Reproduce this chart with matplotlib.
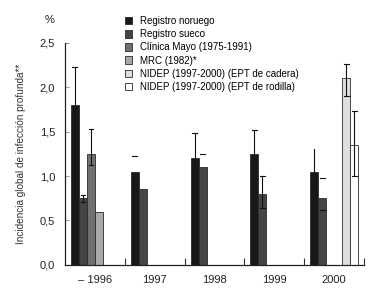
import numpy as np
import matplotlib
matplotlib.use("Agg")
import matplotlib.pyplot as plt
from matplotlib.patches import Patch

plt.rcParams['font.family'] = ['Liberation Sans', 'DejaVu Sans']

nan = np.nan
groups = ['– 1996', '1997', '1998', '1999', '2000']
series_names = ['Registro noruego', 'Registro sueco', 'Clínica Mayo (1975-1991)',
                'MRC (1982)*', 'NIDEP (1997-2000) (EPT de cadera)',
                'NIDEP (1997-2000) (EPT de rodilla)']
noruego = [1.80, 1.05, 1.20, 1.25, 1.05]
sueco = [0.75, 0.85, 1.10, 0.80, 0.75]
mayo = [1.25, nan, nan, nan, nan]
mrc = [0.60, nan, nan, nan, nan]
cadera = [nan, nan, nan, nan, 2.10]
rodilla = [nan, nan, nan, nan, 1.35]

noruego_hi = [2.23, 1.23, 1.49, 1.52, 1.31]
noruego_lo = [nan, nan, nan, nan, nan]
noruego_err = ['lc', 'c', 'lc', 'lc', 'l']
sueco_hi = [0.785, nan, 1.25, 1.00, 0.98]
sueco_lo = [0.71, nan, nan, 0.64, 0.62]
sueco_err = ['lc', '', 'c', 'lc', 'c']
mayo_hi = [1.53, nan, nan, nan, nan]
mayo_lo = [1.12, nan, nan, nan, nan]
mayo_err = ['lc', '', '', '', '']
cadera_hi = [nan, nan, nan, nan, 2.26]
cadera_lo = [nan, nan, nan, nan, 1.90]
cadera_err = ['', '', '', '', 'lc']
rodilla_hi = [nan, nan, nan, nan, 1.73]
rodilla_lo = [nan, nan, nan, nan, 1.00]
rodilla_err = ['', '', '', '', 'lc']

colors = ['#181818', '#454545', '#707070', '#a9a9a9', '#dedede', '#ffffff']

fig = plt.figure(figsize=(3.84, 3.0), dpi=100)
ax = fig.add_axes([0.169, 0.117, 0.779, 0.740])

vals = [noruego, sueco, mayo, mrc, cadera, rodilla]
his = [noruego_hi, sueco_hi, mayo_hi, [nan]*5, cadera_hi, rodilla_hi]
los = [noruego_lo, sueco_lo, mayo_lo, [nan]*5, cadera_lo, rodilla_lo]
errs = [noruego_err, sueco_err, mayo_err, ['']*5, cadera_err, rodilla_err]

w = 0.134
off = 0.1
x0 = np.arange(len(groups))
for k, (v, c) in enumerate(zip(vals, colors)):
    x = x0 + off + k * w
    ax.bar(x, v, width=w, align='edge', color=c, edgecolor='#2a2a2a', linewidth=0.6, zorder=2)
    xc = x + w / 2
    for i in range(len(groups)):
        st = errs[k][i]
        if not st:
            continue
        hi = his[k][i]
        lo = los[k][i]
        base = v[i]
        top = hi if not np.isnan(hi) else base
        bot = lo if not np.isnan(lo) else base
        if 'l' in st:
            ax.plot([xc[i], xc[i]], [bot, top], color='#111111', lw=0.8, zorder=3)
        if 'c' in st:
            for yy in ([hi, lo]):
                if not np.isnan(yy):
                    ax.plot([xc[i] - 0.04, xc[i] + 0.04], [yy, yy], color='#111111', lw=0.8, zorder=3)

ax.set_xlim(0, len(groups))
ax.set_ylim(0, 2.5)
ax.set_yticks([0, 0.5, 1.0, 1.5, 2.0, 2.5])
ax.set_yticklabels(['0,0', '0,5', '1,0', '1,5', '2,0', '2,5'], fontsize=8, color='#222222')
ax.set_xticks(np.arange(1, len(groups) + 1))
ax.set_xticklabels([])
ax.set_xticks(x0 + 0.5, minor=True)
ax.set_xticklabels(groups, minor=True, fontsize=8, color='#222222')
ax.tick_params(axis='x', which='major', direction='in', length=5, width=0.8, color='#333333')
ax.tick_params(axis='x', which='minor', length=0, pad=7)
ax.tick_params(axis='y', direction='in', length=3, width=0.6, color='#888888', pad=7)
for s in ['top', 'right']:
    ax.spines[s].set_visible(False)
for s in ['left', 'bottom']:
    ax.spines[s].set_color('#222222')
    ax.spines[s].set_linewidth(0.9)

ax.set_ylabel('Incidencia global de infección profunda**', fontsize=7.2, color='#333333', labelpad=10)
fig.text(0.128, 0.932, '%', fontsize=8, color='#222222', ha='center', va='center')

handles = [Patch(facecolor=c, edgecolor='#2a2a2a', linewidth=0.6) for c in colors]
fig.legend(handles, series_names, loc='upper left', bbox_to_anchor=(0.312, 0.963),
           frameon=False, fontsize=7, handlelength=0.8, handleheight=0.8,
           handletextpad=0.75, labelspacing=0.33, borderpad=0)

fig.savefig('out.png', dpi=100)
